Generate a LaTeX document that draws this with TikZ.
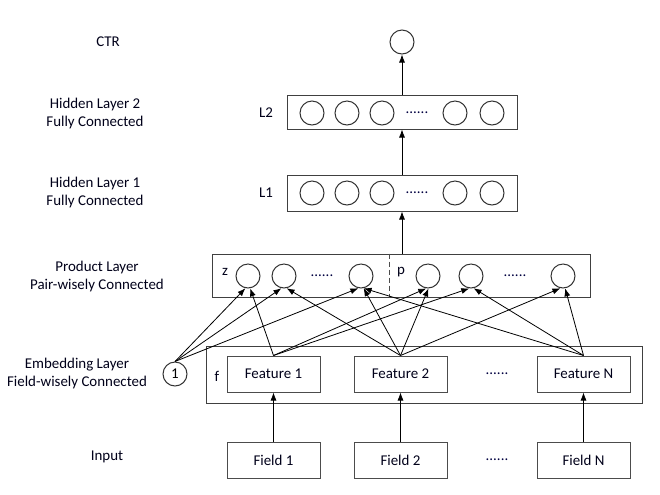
\documentclass[tikz,border=0pt]{standalone}
\usepackage{fontspec}
\setmainfont{Carlito}
\usetikzlibrary{arrows.meta}
\begin{document}
\begin{tikzpicture}[x=0.75pt,y=-0.75pt,
  font=\fontsize{11.2}{13.5}\selectfont,
  txt/.style={text=black!90!blue, align=center, inner sep=0pt},
  neuron/.style={circle, draw=black!80, line width=0.75pt, minimum size=18pt, inner sep=0pt},
  layerbox/.style={draw=black!75, line width=0.75pt, inner sep=0pt},
  featbox/.style={draw=black!70, line width=0.75pt, minimum width=69.75pt, minimum height=27pt, inner sep=0pt, text=black!90!blue},
  arr/.style={-{Latex[length=6pt,width=4.5pt]}, line width=0.6pt, black},
  dotstxt/.style={text=black!75!blue, inner sep=0pt}
]
\useasboundingbox (0,0) rectangle (660,494);

% left labels
\node[txt] (lctr) at (108,42) {CTR};
\node[txt] (lh2) at (95,114) {Hidden Layer 2\\Fully Connected};
\node[txt] (lh1) at (95,193) {Hidden Layer 1\\Fully Connected};
\node[txt] (lprod) at (97,277) {Product Layer\\Pair-wisely Connected};
\node[txt] (lemb) at (77,374) {Embedding Layer\\Field-wisely Connected};
\node[txt] (linp) at (107,457) {Input};

% CTR
\node[neuron] (ctr) at (402,42) {};

% Hidden layer 2
\node[layerbox, minimum width=172.5pt, minimum height=25.5pt] (L2) at (402,112) {};
\node[txt] (l2lab) at (266,113) {L2};
\node[neuron] (h2a) at (312,113) {};
\node[neuron] (h2b) at (347,113) {};
\node[neuron] (h2c) at (382,113) {};
\node[dotstxt] (h2d) at (417,113) {......};
\node[neuron] (h2e) at (455,113) {};
\node[neuron] (h2f) at (492,113) {};

% Hidden layer 1
\node[layerbox, minimum width=172.5pt, minimum height=27pt] (L1) at (402,193) {};
\node[txt] (l1lab) at (266,193) {L1};
\node[neuron] (h1a) at (312,193) {};
\node[neuron] (h1b) at (347,193) {};
\node[neuron] (h1c) at (382,193) {};
\node[dotstxt] (h1d) at (417,193) {......};
\node[neuron] (h1e) at (455,193) {};
\node[neuron] (h1f) at (492,193) {};

% Product layer
\node[layerbox, minimum width=283.5pt, minimum height=32.25pt] (prod) at (401,275.5) {};
\draw[dash pattern=on 4pt off 2pt, draw=black!70, line width=0.75pt] (prod.north -| 389,0) coordinate (dtop) -- (prod.south -| 389,0) coordinate (dbot);
\node[txt] (zlab) at (225,272) {z};
\node[neuron] (z1) at (248,276) {};
\node[neuron] (z2) at (284,276) {};
\node[dotstxt] (zd) at (322,276) {......};
\node[neuron] (z3) at (361,276) {};
\node[txt] (plab) at (401,272) {p};
\node[neuron] (p1) at (428,276) {};
\node[neuron] (p2) at (471,276) {};
\node[dotstxt] (pd) at (515,276) {......};
\node[neuron] (p3) at (563,276) {};

% Embedding layer
\node[layerbox, minimum width=327pt, minimum height=42.75pt] (emb) at (424,374.5) {};
\node[txt] (flab) at (217,376) {f};
\node[featbox] (f1) at (273.5,374) {Feature 1};
\node[featbox] (f2) at (400.5,374) {Feature 2};
\node[dotstxt] (fd) at (497,374) {......};
\node[featbox] (fn) at (583.5,374) {Feature N};
\node[neuron, text=black] (one) at (175,374) {1};

% Input
\node[featbox] (in1) at (273.5,460) {Field 1};
\node[featbox] (in2) at (400.5,460) {Field 2};
\node[dotstxt] (ind) at (497,460) {......};
\node[featbox] (inn) at (583.5,460) {Field N};

% vertical arrows
\draw[arr] (in1) -- (f1);
\draw[arr] (in2) -- (f2);
\draw[arr] (inn) -- (fn);
\draw[arr] (prod.north -| L1.south) -- (L1.south);
\draw[arr] (L1.north) -- (L2.south);
\draw[arr] (L2.north) -- (ctr);

% constant 1 to z
\draw[arr] (one.north) -- (z1.258);
\draw[arr] (one.north) -- (z2.258);
\draw[arr] (one.north) -- (z3.258);

% features to z and p
\draw[arr] (f1.north) -- (z1.280);
\draw[arr] (f1.north) -- (p1.262);
\draw[arr] (f1.north) -- (p2.262);
\draw[arr] (f2.north) -- (z2.282);
\draw[arr] (f2.north) -- (z3.282);
\draw[arr] (f2.north) -- (p1.272);
\draw[arr] (f2.north) -- (p3.258);
\draw[arr] (fn.north) -- (z3.282);
\draw[arr] (fn.north) -- (p2.282);
\draw[arr] (fn.north) -- (p3.280);
\end{tikzpicture}
\end{document}
